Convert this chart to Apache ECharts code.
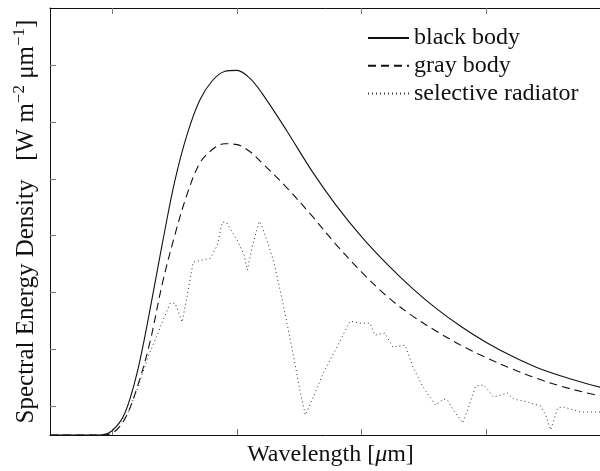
<!DOCTYPE html>
<html>
<head>
<meta charset="utf-8">
<script src="https://cdn.jsdelivr.net/npm/echarts@6/dist/echarts.min.js"></script>
<style>
  html, body { margin: 0; padding: 0; background: #fff; }
  #chart { width: 600px; height: 471px; }
</style>
</head>
<body>
<div id="chart"></div>
<script>
// Wavelength samples (µm) for the smooth curves
var wavelength = [0, 0.3, 0.4, 0.5, 0.6, 0.7, 0.8, 0.9, 1.0, 1.1, 1.2, 1.3, 1.4, 1.5, 1.6, 1.7, 1.9, 2.1, 2.3, 2.5, 2.7, 2.9, 3.1, 3.3, 3.5, 3.7, 3.9, 4.1, 4.3, 4.5];
var blackBody = [0, 0, 0, 0.079, 0.381, 1.105, 2.175, 3.351, 4.45, 5.28, 5.877, 6.218, 6.386, 6.404, 6.272, 6.005, 5.340, 4.640, 4.020, 3.480, 3.010, 2.590, 2.220, 1.900, 1.625, 1.390, 1.190, 1.035, 0.905, 0.795];
var grayBody = [0, 0, 0, 0.035, 0.281, 0.842, 1.614, 2.650, 3.50, 4.23, 4.77, 5.01, 5.115, 5.100, 4.985, 4.780, 4.342, 3.852, 3.332, 2.862, 2.442, 2.102, 1.822, 1.572, 1.357, 1.167, 0.997, 0.857, 0.742, 0.647];
// Selective radiator: its own wavelength samples (µm)
var selWavelength = [0, 0.442, 0.506, 0.618, 0.698, 0.788, 0.860, 0.908, 0.964, 1.004, 1.060, 1.100, 1.148, 1.286, 1.342, 1.382, 1.414, 1.502, 1.558, 1.582, 1.622, 1.678, 1.710, 1.792, 1.864, 1.944, 2.008, 2.048, 2.112, 2.192, 2.302, 2.406, 2.486, 2.566, 2.606, 2.686, 2.750, 2.848, 2.912, 2.992, 3.092, 3.156, 3.188, 3.236, 3.310, 3.350, 3.414, 3.478, 3.558, 3.670, 3.718, 3.832, 3.936, 3.976, 4.016, 4.072, 4.120, 4.258, 4.418, 4.5];
var selective = [0, 0, 0.088, 0.351, 0.789, 1.386, 1.754, 2.018, 2.316, 2.316, 1.982, 2.439, 3.035, 3.105, 3.333, 3.737, 3.737, 3.421, 3.158, 2.895, 3.298, 3.754, 3.614, 3.070, 2.368, 1.491, 0.754, 0.351, 0.667, 1.088, 1.544, 2.0, 1.965, 1.965, 1.754, 1.789, 1.544, 1.579, 1.193, 0.842, 0.526, 0.632, 0.614, 0.439, 0.211, 0.439, 0.860, 0.877, 0.667, 0.737, 0.632, 0.579, 0.509, 0.351, 0.088, 0.474, 0.491, 0.404, 0.404, 0.404];
var xTicks = [0.5, 1.5, 2.5, 3.5];
var yTicks = [0.5, 1.5, 2.5, 3.5, 4.5, 5.5, 6.5];
var seriesNames = ['black body', 'gray body', 'selective radiator'];

function zip(xs, ys) { return xs.map(function (x, i) { return [x, ys[i]]; }); }

var FONT = 'Liberation Serif';
var chart = echarts.init(document.getElementById('chart'), null, { renderer: 'canvas' });

function xAx(pos, withName) {
  var a = {
    type: 'value', position: pos, min: 0, max: 4.5,
    axisLine: { show: true, onZero: false, lineStyle: { color: '#111', width: 1 } },
    axisTick: { show: true, inside: true, length: 6, customValues: xTicks, lineStyle: { color: '#777', width: 1 } },
    axisLabel: { show: false },
    splitLine: { show: false }
  };
  if (withName) {
    a.name = 'Wavelength [{i|μ}m]';
    a.nameLocation = 'middle';
    a.nameGap = 8;
    a.nameTextStyle = { fontFamily: FONT, fontSize: 24, color: '#111', rich: { i: { fontFamily: FONT, fontSize: 24, fontStyle: 'italic', color: '#111' } } };
  }
  return a;
}
function yAx(pos, withName) {
  var a = {
    type: 'value', position: pos, min: 0, max: 7.5,
    axisLine: { show: true, onZero: false, lineStyle: { color: '#111', width: 1 } },
    axisTick: { show: true, inside: true, length: 6, customValues: yTicks, lineStyle: { color: '#777', width: 1 } },
    axisLabel: { show: false },
    splitLine: { show: false }
  };
  if (withName) {
    a.name = 'Spectral Energy Density   [W m{sup|−2} μm{sup|−1}]';
    a.nameLocation = 'middle';
    a.nameGap = 8;
    a.nameTextStyle = { fontFamily: FONT, fontSize: 25, color: '#111',
      rich: { sup: { fontFamily: FONT, fontSize: 17, color: '#111', padding: [0, 0, 14, 0] } } };
  }
  return a;
}

chart.setOption({
  animation: false,
  backgroundColor: '#fff',
  grid: { left: 50, top: 8, width: 561, height: 427, containLabel: false, outerBoundsMode: 'none' },
  xAxis: [xAx('bottom', true), xAx('top', false)],
  yAxis: [yAx('left', true), yAx('right', false)],
  legend: {
    data: seriesNames,
    orient: 'vertical',
    left: 367, top: 26,
    padding: 0,
    itemWidth: 41, itemHeight: 14, itemGap: 3.8,
    itemStyle: { opacity: 0 },
    textStyle: { fontFamily: FONT, fontSize: 24, color: '#111' }
  },
  series: [
    { name: seriesNames[0], type: 'line', data: zip(wavelength, blackBody), smooth: 0.35, symbol: 'none',
      lineStyle: { color: '#111', width: 1.1, type: 'solid' }, itemStyle: { color: '#111' } },
    { name: seriesNames[1], type: 'line', data: zip(wavelength, grayBody), smooth: 0.35, symbol: 'none',
      lineStyle: { color: '#111', width: 1.1, type: [8, 5] }, itemStyle: { color: '#111' } },
    { name: seriesNames[2], type: 'line', data: zip(selWavelength, selective), smooth: false, symbol: 'none',
      lineStyle: { color: '#333', width: 1, type: [1, 3] }, itemStyle: { color: '#333' } }
  ]
});
</script>
</body>
</html>
